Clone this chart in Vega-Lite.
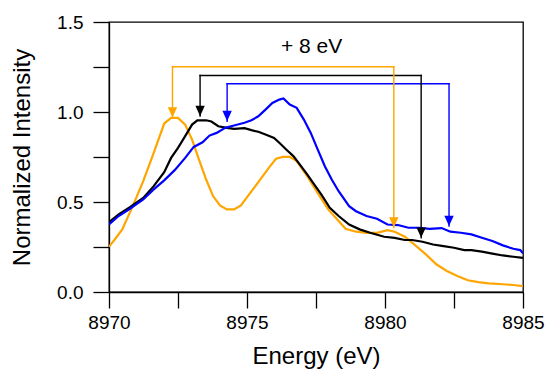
{
  "$schema": "https://vega.github.io/schema/vega-lite/v6.json",
  "width": 414,
  "height": 270,
  "autosize": {"type": "none"},
  "padding": {"left": 109, "top": 22, "right": 24, "bottom": 78},
  "background": "white",
  "config": {
    "view": {"stroke": "#000", "strokeWidth": 1.3},
    "font": "Liberation Sans",
    "axis": {
      "grid": false,
      "domainColor": "#000",
      "domainWidth": 1.3,
      "tickColor": "#000",
      "tickWidth": 1.3,
      "tickSize": 16,
      "labelColor": "#000",
      "titleColor": "#000",
      "labelFont": "Liberation Sans",
      "titleFont": "Liberation Sans",
      "labelFontSize": 19,
      "titleFontSize": 24,
      "titleFontWeight": "normal",
      "labelFlush": false,
      "labelOverlap": false
    }
  },
  "datasets": {
    "curves": [
      {"s": "orange", "E": 8970.0, "I": 0.252},
      {"s": "orange", "E": 8970.23, "I": 0.296},
      {"s": "orange", "E": 8970.48, "I": 0.348},
      {"s": "orange", "E": 8970.86, "I": 0.477},
      {"s": "orange", "E": 8971.24, "I": 0.616},
      {"s": "orange", "E": 8971.62, "I": 0.773},
      {"s": "orange", "E": 8972.0, "I": 0.936},
      {"s": "orange", "E": 8972.25, "I": 0.967},
      {"s": "orange", "E": 8972.5, "I": 0.967},
      {"s": "orange", "E": 8972.76, "I": 0.93},
      {"s": "orange", "E": 8973.01, "I": 0.847},
      {"s": "orange", "E": 8973.26, "I": 0.736},
      {"s": "orange", "E": 8973.52, "I": 0.625},
      {"s": "orange", "E": 8973.77, "I": 0.533},
      {"s": "orange", "E": 8974.02, "I": 0.481},
      {"s": "orange", "E": 8974.27, "I": 0.459},
      {"s": "orange", "E": 8974.53, "I": 0.459},
      {"s": "orange", "E": 8974.78, "I": 0.481},
      {"s": "orange", "E": 8975.03, "I": 0.533},
      {"s": "orange", "E": 8975.41, "I": 0.61},
      {"s": "orange", "E": 8975.79, "I": 0.69},
      {"s": "orange", "E": 8976.05, "I": 0.74},
      {"s": "orange", "E": 8976.3, "I": 0.751},
      {"s": "orange", "E": 8976.55, "I": 0.751},
      {"s": "orange", "E": 8976.8, "I": 0.727},
      {"s": "orange", "E": 8977.18, "I": 0.644},
      {"s": "orange", "E": 8977.56, "I": 0.551},
      {"s": "orange", "E": 8977.94, "I": 0.459},
      {"s": "orange", "E": 8978.32, "I": 0.394},
      {"s": "orange", "E": 8978.57, "I": 0.351},
      {"s": "orange", "E": 8978.95, "I": 0.335},
      {"s": "orange", "E": 8979.33, "I": 0.329},
      {"s": "orange", "E": 8979.71, "I": 0.329},
      {"s": "orange", "E": 8980.09, "I": 0.344},
      {"s": "orange", "E": 8980.35, "I": 0.335},
      {"s": "orange", "E": 8980.72, "I": 0.307},
      {"s": "orange", "E": 8981.1, "I": 0.259},
      {"s": "orange", "E": 8981.48, "I": 0.209},
      {"s": "orange", "E": 8981.86, "I": 0.154},
      {"s": "orange", "E": 8982.24, "I": 0.117},
      {"s": "orange", "E": 8982.62, "I": 0.089},
      {"s": "orange", "E": 8983.0, "I": 0.065},
      {"s": "orange", "E": 8983.38, "I": 0.055},
      {"s": "orange", "E": 8983.76, "I": 0.048},
      {"s": "orange", "E": 8984.27, "I": 0.043},
      {"s": "orange", "E": 8984.65, "I": 0.039},
      {"s": "orange", "E": 8985.0, "I": 0.033},
      {"s": "black", "E": 8970.0, "I": 0.388},
      {"s": "black", "E": 8970.35, "I": 0.431},
      {"s": "black", "E": 8970.73, "I": 0.468},
      {"s": "black", "E": 8971.24, "I": 0.523},
      {"s": "black", "E": 8971.62, "I": 0.588},
      {"s": "black", "E": 8972.0, "I": 0.666},
      {"s": "black", "E": 8972.25, "I": 0.745},
      {"s": "black", "E": 8972.5, "I": 0.801},
      {"s": "black", "E": 8972.76, "I": 0.866},
      {"s": "black", "E": 8973.01, "I": 0.93},
      {"s": "black", "E": 8973.2, "I": 0.954},
      {"s": "black", "E": 8973.52, "I": 0.954},
      {"s": "black", "E": 8973.71, "I": 0.947},
      {"s": "black", "E": 8973.96, "I": 0.921},
      {"s": "black", "E": 8974.27, "I": 0.912},
      {"s": "black", "E": 8974.53, "I": 0.906},
      {"s": "black", "E": 8974.91, "I": 0.91},
      {"s": "black", "E": 8975.16, "I": 0.899},
      {"s": "black", "E": 8975.41, "I": 0.89},
      {"s": "black", "E": 8975.67, "I": 0.875},
      {"s": "black", "E": 8975.98, "I": 0.856},
      {"s": "black", "E": 8976.17, "I": 0.829},
      {"s": "black", "E": 8976.42, "I": 0.792},
      {"s": "black", "E": 8976.68, "I": 0.755},
      {"s": "black", "E": 8976.93, "I": 0.705},
      {"s": "black", "E": 8977.18, "I": 0.653},
      {"s": "black", "E": 8977.44, "I": 0.597},
      {"s": "black", "E": 8977.69, "I": 0.542},
      {"s": "black", "E": 8978.0, "I": 0.468},
      {"s": "black", "E": 8978.32, "I": 0.422},
      {"s": "black", "E": 8978.7, "I": 0.375},
      {"s": "black", "E": 8979.08, "I": 0.348},
      {"s": "black", "E": 8979.46, "I": 0.329},
      {"s": "black", "E": 8979.97, "I": 0.307},
      {"s": "black", "E": 8980.35, "I": 0.301},
      {"s": "black", "E": 8980.72, "I": 0.289},
      {"s": "black", "E": 8980.98, "I": 0.289},
      {"s": "black", "E": 8981.36, "I": 0.279},
      {"s": "black", "E": 8981.74, "I": 0.264},
      {"s": "black", "E": 8982.12, "I": 0.255},
      {"s": "black", "E": 8982.5, "I": 0.246},
      {"s": "black", "E": 8982.87, "I": 0.233},
      {"s": "black", "E": 8983.13, "I": 0.233},
      {"s": "black", "E": 8983.51, "I": 0.224},
      {"s": "black", "E": 8983.89, "I": 0.213},
      {"s": "black", "E": 8984.27, "I": 0.203},
      {"s": "black", "E": 8984.65, "I": 0.196},
      {"s": "black", "E": 8985.0, "I": 0.19},
      {"s": "blue", "E": 8970.0, "I": 0.375},
      {"s": "blue", "E": 8970.35, "I": 0.422},
      {"s": "blue", "E": 8970.73, "I": 0.459},
      {"s": "blue", "E": 8971.24, "I": 0.514},
      {"s": "blue", "E": 8971.62, "I": 0.57},
      {"s": "blue", "E": 8972.0, "I": 0.62},
      {"s": "blue", "E": 8972.38, "I": 0.677},
      {"s": "blue", "E": 8972.76, "I": 0.745},
      {"s": "blue", "E": 8973.07, "I": 0.806},
      {"s": "blue", "E": 8973.39, "I": 0.832},
      {"s": "blue", "E": 8973.64, "I": 0.869},
      {"s": "blue", "E": 8973.9, "I": 0.884},
      {"s": "blue", "E": 8974.21, "I": 0.912},
      {"s": "blue", "E": 8974.53, "I": 0.925},
      {"s": "blue", "E": 8974.91, "I": 0.94},
      {"s": "blue", "E": 8975.16, "I": 0.954},
      {"s": "blue", "E": 8975.41, "I": 0.976},
      {"s": "blue", "E": 8975.67, "I": 1.013},
      {"s": "blue", "E": 8975.92, "I": 1.05},
      {"s": "blue", "E": 8976.17, "I": 1.069},
      {"s": "blue", "E": 8976.32, "I": 1.075},
      {"s": "blue", "E": 8976.55, "I": 1.041},
      {"s": "blue", "E": 8976.8, "I": 1.023},
      {"s": "blue", "E": 8977.06, "I": 0.958},
      {"s": "blue", "E": 8977.31, "I": 0.884},
      {"s": "blue", "E": 8977.56, "I": 0.792},
      {"s": "blue", "E": 8977.82, "I": 0.699},
      {"s": "blue", "E": 8978.07, "I": 0.625},
      {"s": "blue", "E": 8978.32, "I": 0.56},
      {"s": "blue", "E": 8978.7, "I": 0.477},
      {"s": "blue", "E": 8978.95, "I": 0.449},
      {"s": "blue", "E": 8979.33, "I": 0.422},
      {"s": "blue", "E": 8979.71, "I": 0.407},
      {"s": "blue", "E": 8980.09, "I": 0.375},
      {"s": "blue", "E": 8980.47, "I": 0.372},
      {"s": "blue", "E": 8980.85, "I": 0.357},
      {"s": "blue", "E": 8981.23, "I": 0.357},
      {"s": "blue", "E": 8981.61, "I": 0.351},
      {"s": "blue", "E": 8982.05, "I": 0.355},
      {"s": "blue", "E": 8982.37, "I": 0.335},
      {"s": "blue", "E": 8982.75, "I": 0.329},
      {"s": "blue", "E": 8983.13, "I": 0.32},
      {"s": "blue", "E": 8983.51, "I": 0.301},
      {"s": "blue", "E": 8983.89, "I": 0.283},
      {"s": "blue", "E": 8984.27, "I": 0.259},
      {"s": "blue", "E": 8984.65, "I": 0.24},
      {"s": "blue", "E": 8984.9, "I": 0.233},
      {"s": "blue", "E": 8985.0, "I": 0.215}
    ],
    "arrows": [
      {"s": "orange", "xl": 8972.3, "xr": 8980.32, "yh": 1.251, "yl": 0.969, "yr": 0.358},
      {"s": "black", "xl": 8973.3, "xr": 8981.31, "yh": 1.203, "yl": 0.977, "yr": 0.301},
      {"s": "blue", "xl": 8974.28, "xr": 8982.32, "yh": 1.157, "yl": 0.949, "yr": 0.366}
    ],
    "note": [{"E": 8977.34, "I": 1.362, "text": "+ 8 eV"}]
  },
  "layer": [
    {
      "data": {"name": "curves"},
      "transform": [{"filter": "datum.s === 'orange'"}],
      "mark": {"type": "line", "strokeWidth": 2.2, "clip": true},
      "encoding": {
        "x": {
          "field": "E", "type": "quantitative",
          "scale": {"domain": [8970, 8985], "nice": false, "zero": false},
          "title": "Energy (eV)",
          "axis": {
            "values": [8970, 8972.5, 8975, 8977.5, 8980, 8982.5, 8985],
            "labelExpr": "datum.value % 5 === 0 ? format(datum.value, 'd') : ''",
            "tickSize": 16,
            "encode": {"ticks": {"update": {"y2": {"signal": "datum.value % 5 === 0 ? 16 : 8"}}}},
            "labelPadding": 5,
            "titlePadding": 12
          }
        },
        "y": {
          "field": "I", "type": "quantitative",
          "scale": {"domain": [0, 1.5], "nice": false, "zero": false},
          "title": "Normalized Intensity",
          "axis": {
            "values": [0, 0.25, 0.5, 0.75, 1, 1.25, 1.5],
            "labelExpr": "round(datum.value * 4) % 2 === 0 ? format(datum.value, '.1f') : ''",
            "tickSize": 16,
            "encode": {"ticks": {"update": {"x2": {"signal": "round(datum.value * 4) % 2 === 0 ? -16 : -8"}}}},
            "labelPadding": 10,
            "titlePadding": 22
          }
        },
        "color": {
          "field": "s", "type": "nominal",
          "scale": {"domain": ["orange", "black", "blue"], "range": ["#FFA500", "#000000", "#0000FF"]},
          "legend": null
        }
      }
    },
    {
      "data": {"name": "curves"},
      "transform": [{"filter": "datum.s === 'black'"}],
      "mark": {"type": "line", "strokeWidth": 2.2, "clip": true},
      "encoding": {
        "x": {"field": "E", "type": "quantitative", "title": "Energy (eV)"},
        "y": {"field": "I", "type": "quantitative", "title": "Normalized Intensity"},
        "color": {"field": "s", "type": "nominal", "legend": null}
      }
    },
    {
      "data": {"name": "curves"},
      "transform": [{"filter": "datum.s === 'blue'"}],
      "mark": {"type": "line", "strokeWidth": 2.2, "clip": true},
      "encoding": {
        "x": {"field": "E", "type": "quantitative", "title": "Energy (eV)"},
        "y": {"field": "I", "type": "quantitative", "title": "Normalized Intensity"},
        "color": {"field": "s", "type": "nominal", "legend": null}
      }
    },
    {
      "data": {"name": "arrows"},
      "mark": {"type": "rule", "strokeWidth": 1.4, "strokeCap": "square"},
      "encoding": {
        "x": {"field": "xl", "type": "quantitative", "title": "Energy (eV)"},
        "x2": {"field": "xr"},
        "y": {"field": "yh", "type": "quantitative", "title": "Normalized Intensity"},
        "color": {"field": "s", "type": "nominal", "legend": null}
      }
    },
    {
      "data": {"name": "arrows"},
      "mark": {"type": "rule", "strokeWidth": 1.4, "strokeCap": "square"},
      "encoding": {
        "x": {"field": "xl", "type": "quantitative", "title": "Energy (eV)"},
        "y": {"field": "yh", "type": "quantitative", "title": "Normalized Intensity"},
        "y2": {"field": "yl"},
        "color": {"field": "s", "type": "nominal", "legend": null}
      }
    },
    {
      "data": {"name": "arrows"},
      "mark": {"type": "rule", "strokeWidth": 1.4, "strokeCap": "square"},
      "encoding": {
        "x": {"field": "xr", "type": "quantitative", "title": "Energy (eV)"},
        "y": {"field": "yh", "type": "quantitative", "title": "Normalized Intensity"},
        "y2": {"field": "yr"},
        "color": {"field": "s", "type": "nominal", "legend": null}
      }
    },
    {
      "data": {"name": "arrows"},
      "mark": {"type": "point", "filled": true, "opacity": 1, "size": 88, "shape": "M-1,-2.2L1,-2.2L0,0Z"},
      "encoding": {
        "x": {"field": "xl", "type": "quantitative", "title": "Energy (eV)"},
        "y": {"field": "yl", "type": "quantitative", "title": "Normalized Intensity"},
        "color": {"field": "s", "type": "nominal", "legend": null}
      }
    },
    {
      "data": {"name": "arrows"},
      "mark": {"type": "point", "filled": true, "opacity": 1, "size": 88, "shape": "M-1,-2.2L1,-2.2L0,0Z"},
      "encoding": {
        "x": {"field": "xr", "type": "quantitative", "title": "Energy (eV)"},
        "y": {"field": "yr", "type": "quantitative", "title": "Normalized Intensity"},
        "color": {"field": "s", "type": "nominal", "legend": null}
      }
    },
    {
      "data": {"name": "note"},
      "mark": {"type": "text", "fontSize": 21, "font": "Liberation Sans", "color": "#000", "align": "center", "baseline": "middle"},
      "encoding": {
        "x": {"field": "E", "type": "quantitative", "title": "Energy (eV)"},
        "y": {"field": "I", "type": "quantitative", "title": "Normalized Intensity"},
        "text": {"field": "text"}
      }
    }
  ]
}
